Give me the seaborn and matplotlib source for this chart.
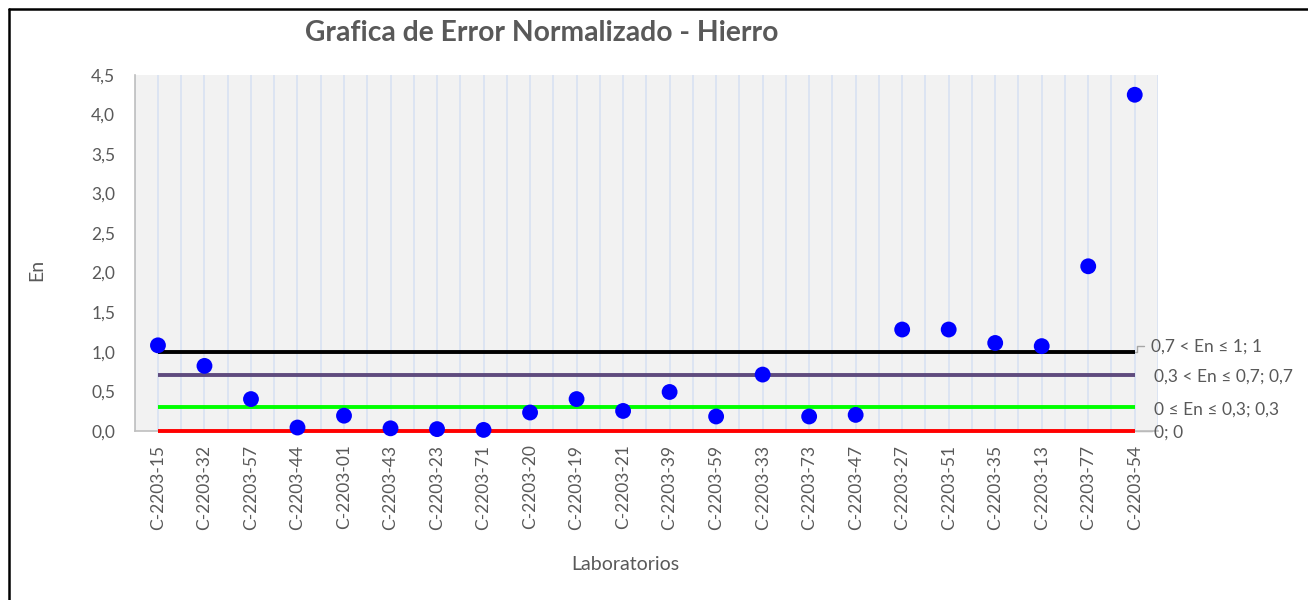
import numpy as np
import pandas as pd
import matplotlib
matplotlib.use("Agg")
import matplotlib.pyplot as plt
import seaborn as sns

labs = ["C-2203-15", "C-2203-32", "C-2203-57", "C-2203-44", "C-2203-01", "C-2203-43",
        "C-2203-23", "C-2203-71", "C-2203-20", "C-2203-19", "C-2203-21", "C-2203-39",
        "C-2203-59", "C-2203-33", "C-2203-73", "C-2203-47", "C-2203-27", "C-2203-51",
        "C-2203-35", "C-2203-13", "C-2203-77", "C-2203-54"]
en_values = [1.08, 0.82, 0.40, 0.04, 0.19, 0.03, 0.02, 0.01, 0.23, 0.40, 0.25, 0.49,
             0.18, 0.71, 0.18, 0.20, 1.28, 1.28, 1.11, 1.07, 2.08, 4.25]
limit_values = [1.0, 0.7, 0.3, 0.0]
limit_labels = ["0,7 < En \u2264 1; 1", "0,3 < En \u2264 0,7; 0,7", "0 \u2264 En \u2264 0,3; 0,3", "0; 0"]
limit_colors = ["#000000", "#5F4B7E", "#00FF00", "#FF0000"]
yticks = [0.0, 0.5, 1.0, 1.5, 2.0, 2.5, 3.0, 3.5, 4.0, 4.5]

sns.set_theme(style="white")
plt.rcParams['font.family'] = ['Lato', 'DejaVu Sans']

fig = plt.figure(figsize=(13.08, 6.0), dpi=100)
W, H = 1308, 600
left, right, top, bottom = 134.7, 1158.0, 75.0, 430.7
ax = fig.add_axes([left / W, 1 - bottom / H, (right - left) / W, (bottom - top) / H])
ax.set_facecolor("#F2F2F2")

n = len(labs)
xpos = np.arange(n)
df = pd.DataFrame({"x": xpos, "En": en_values})

# vertical grid lines
for g in np.arange(-0.5, n + 0.5, 0.5):
    ax.axvline(g, color="#DAE3F3", lw=1.3, zorder=0)

for v, c in zip(limit_values, limit_colors):
    ax.plot([0, n - 1], [v, v], color=c, lw=2.8, zorder=4, solid_capstyle="butt", clip_on=False)

sns.scatterplot(data=df, x="x", y="En", ax=ax, color="#0000FF", s=130,
                edgecolor="none", zorder=5, legend=False, clip_on=False)

ax.set_xlim(-0.5, n - 0.5)
ax.set_ylim(0, 4.5)
ax.set_yticks(yticks)
ax.set_yticklabels([f"{t:.1f}".replace(".", ",") for t in yticks], color="#595959", fontsize=12.5)
ax.set_xticks(xpos)
ax.set_xticklabels(labs, rotation=90, color="#595959", fontsize=12.5)
ax.tick_params(axis="y", length=0, pad=14)
ax.tick_params(axis="x", length=0, pad=10)
for s in ["top", "right"]:
    ax.spines[s].set_visible(False)
for s in ["left", "bottom"]:
    ax.spines[s].set_color("#BFBFBF")
    ax.spines[s].set_linewidth(1.2)
ax.set_xlabel("")
ax.set_ylabel("")

# right-side labels
lbl_offsets = [(0.35, 0.06), (0.41, -0.02), (0.41, -0.03), (0.41, -0.02)]
for v, t, (dx, dy) in zip(limit_values, limit_labels, lbl_offsets):
    ax.text(n - 1 + dx, v + dy, t, ha="left", va="center", fontsize=12.5,
            color="#595959", clip_on=False)
# leader lines
ax.plot([n - 1, n - 1 + 0.05, n - 1 + 0.05, n - 1 + 0.2], [1.0, 1.0, 1.07, 1.07],
        color="#A6A6A6", lw=1, clip_on=False, zorder=1)
ax.plot([n - 1, n - 1 + 0.38], [0.0, 0.0], color="#A6A6A6", lw=1, clip_on=False, zorder=1)

fig.text(542 / W, 1 - 33 / H, "Grafica de Error Normalizado - Hierro", ha="center", va="center",
         fontsize=20.3, fontweight="bold", color="#595959")
fig.text(37 / W, 1 - 270 / H, "En", rotation=90, ha="center", va="center",
         fontsize=14, color="#595959")
fig.text(625 / W, 1 - 565 / H, "Laboratorios", ha="center", va="center",
         fontsize=14, color="#595959")

# figure frame (top and left)
fig.add_artist(plt.Line2D([9 / W, 1], [1 - 9 / H, 1 - 9 / H], transform=fig.transFigure,
                          color="#000000", lw=1.8))
fig.add_artist(plt.Line2D([9 / W, 9 / W], [0, 1 - 9 / H], transform=fig.transFigure,
                          color="#000000", lw=1.8))

fig.savefig("out.png", dpi=100, facecolor="white")
